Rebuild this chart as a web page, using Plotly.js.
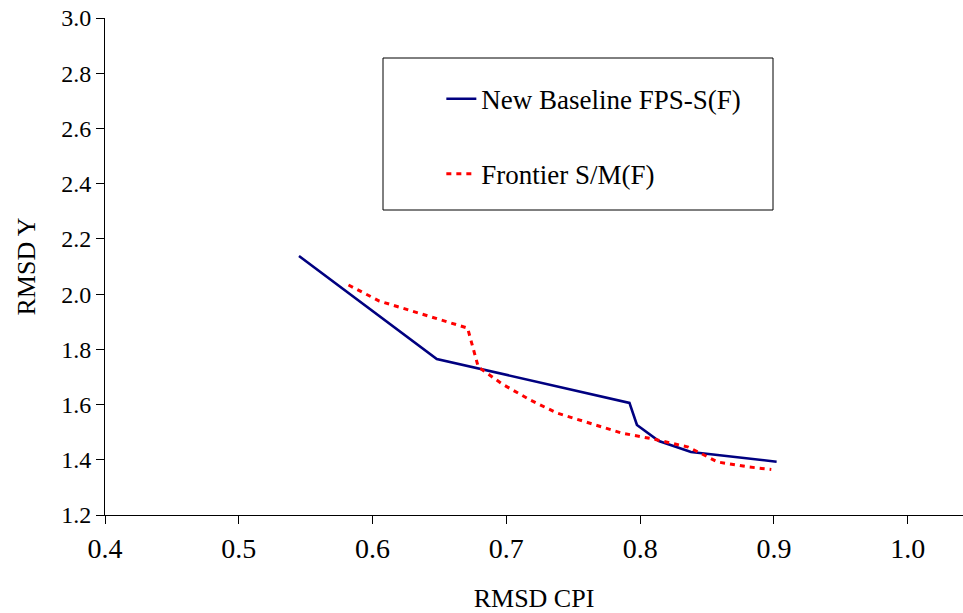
<!DOCTYPE html>
<html>
<head>
<meta charset="utf-8">
<script src="https://cdn.plot.ly/plotly-3.0.1.min.js"></script>
<style>html,body{margin:0;padding:0;background:#fff;}#chart{width:963px;height:613px;}</style>
</head>
<body>
<div id="chart"></div>
<script>
const baselineX = [0.545, 0.648, 0.792, 0.7976, 0.814, 0.838, 0.902];
const baselineY = [2.138, 1.765, 1.606, 1.526, 1.468, 1.428, 1.393];

const frontierX = [0.582, 0.605, 0.671, 0.679, 0.697, 0.718, 0.738, 0.759, 0.786, 0.810, 0.836, 0.858, 0.881, 0.898];
const frontierY = [2.033, 1.975, 1.877, 1.736, 1.674, 1.616, 1.569, 1.537, 1.497, 1.475, 1.446, 1.392, 1.374, 1.365];

const seriesNames = ["New Baseline FPS-S(F)", "Frontier S/M(F)"];
const xTickStart = 0.4, xTickStep = 0.1;
const yTickStart = 1.2, yTickStep = 0.2;

const fam = "Liberation Serif";
function f(size) { return {family: fam, size: size, color: "#000000"}; }

const traces = [
  {x: baselineX, y: baselineY, name: seriesNames[0], mode: "lines", legendgroup: "a",
   line: {color: "#000080", width: 2.6}},
  {x: frontierX, y: frontierY, name: seriesNames[1], mode: "lines", legendgroup: "b",
   line: {color: "#FF0000", width: 3, dash: "5px,5px"}}
];

const layout = {
  width: 963, height: 613,
  margin: {l: 105, r: 0, t: 18, b: 98},
  paper_bgcolor: "#fff", plot_bgcolor: "#fff",
  font: f(14),
  showlegend: true,
  legend: {x: 0.392, y: 0.886, xanchor: "left", yanchor: "top", bgcolor: "rgba(0,0,0,0)",
           borderwidth: 0, tracegroupgap: 37, font: f(27)},
  shapes: [{type: "rect", xref: "paper", yref: "paper",
            x0: (383-105)/858, x1: (773-105)/858, y0: 1-(210-18)/497, y1: 1-(58-18)/497,
            line: {color: "#000", width: 1}, fillcolor: "rgba(0,0,0,0)"}],
  xaxis: {range: [0.4, 1.0413], tickmode: "linear", tick0: xTickStart, dtick: xTickStep, tickformat: ".1f",
          showgrid: false, zeroline: false, showline: true, linecolor: "#000", linewidth: 1,
          ticks: "outside", ticklen: 8, tickcolor: "#000",
          tickfont: {family: "Liberation Serif", size: 28, color: "black"},
          title: {text: "RMSD CPI", font: f(26), standoff: 26}},
  yaxis: {range: [1.2, 3.0], tickmode: "linear", tick0: yTickStart, dtick: yTickStep, tickformat: ".1f",
          showgrid: false, zeroline: false, showline: true, linecolor: "#000", linewidth: 1,
          ticks: "outside", ticklen: 8, tickcolor: "#000",
          tickfont: {family: "Liberation Serif", size: 24, color: "#010101"},
          title: {text: "RMSD Y", font: f(26), standoff: 18}}
};

Plotly.newPlot("chart", traces, layout, {displayModeBar: false});
</script>
</body>
</html>
